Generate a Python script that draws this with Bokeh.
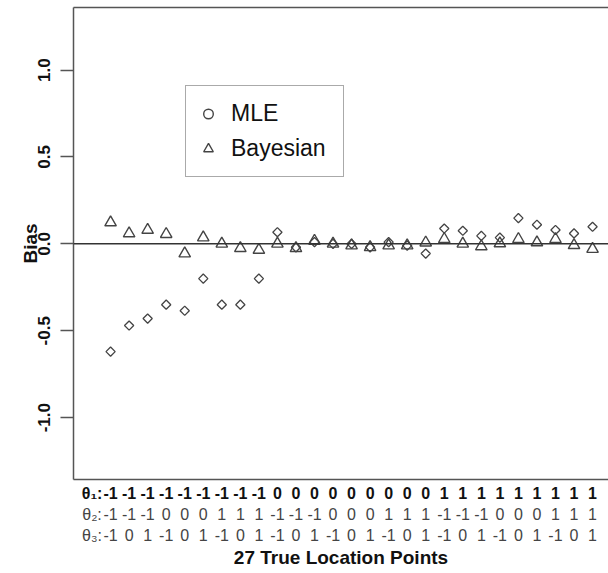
from bokeh.plotting import figure
from bokeh.models import (LinearAxis, FixedTicker, Range1d, Span, Legend,
                          LegendItem, PrintfTickFormatter)
from bokeh.embed import file_html
from bokeh.resources import INLINE

# ---- data ----
points = [1, 2, 3, 4, 5, 6, 7, 8, 9, 10, 11, 12, 13, 14, 15, 16, 17, 18,
          19, 20, 21, 22, 23, 24, 25, 26, 27]
theta1 = [-1, -1, -1, -1, -1, -1, -1, -1, -1, 0, 0, 0, 0, 0, 0, 0, 0, 0,
          1, 1, 1, 1, 1, 1, 1, 1, 1]
theta2 = [-1, -1, -1, 0, 0, 0, 1, 1, 1, -1, -1, -1, 0, 0, 0, 1, 1, 1,
          -1, -1, -1, 0, 0, 0, 1, 1, 1]
theta3 = [-1, 0, 1, -1, 0, 1, -1, 0, 1, -1, 0, 1, -1, 0, 1, -1, 0, 1,
          -1, 0, 1, -1, 0, 1, -1, 0, 1]
mle = [-0.62, -0.47, -0.43, -0.35, -0.385, -0.20, -0.35, -0.35, -0.20, 0.067,
       -0.02, 0.01, 0.0, 0.0, -0.02, 0.01, -0.01, -0.056, 0.088, 0.075,
       0.046, 0.036, 0.148, 0.11, 0.08, 0.06, 0.098]
bayes = [0.123, 0.06, 0.08, 0.056, -0.056, 0.036, 0.0, -0.025, -0.035, 0.0,
         -0.025, 0.017, 0.0, -0.01, -0.02, -0.01, -0.01, 0.007, 0.027, 0.0,
         -0.015, 0.002, 0.027, 0.008, 0.027, -0.008, -0.03]
y_ticks = [-1.0, -0.5, 0.0, 0.5, 1.0]
series_labels = ["MLE", "Bayesian"]
row_prefixes = ["θ₁:", "θ₂:", "θ₃:"]
prefix_tick = 0
x_title = "27 True Location Points"
y_title = "Bias"

FONT = "Liberation Sans"
LINE = "#555555"
MARK = "#444444"

p = figure(width=608, height=573, output_backend="svg", toolbar_location=None,
           x_range=Range1d(-1.0, 27.86), y_range=Range1d(-1.356, 1.36),
           x_axis_location=None, y_axis_location=None,
           min_border_left=73, min_border_right=0, min_border_top=7,
           min_border_bottom=94, outline_line_color=None,
           background_fill_color="white", border_fill_color="white")
p.xgrid.visible = False
p.ygrid.visible = False

# zero line
p.add_layout(Span(location=0, dimension="width", line_color="#333333",
                  line_width=1.5))

# data markers
p.scatter(points, mle, marker="square", angle=0.7853981634, size=6.5,
          line_color=MARK, fill_color=None, line_width=1.3)
p.scatter(points, bayes, marker="triangle", size=11.5,
          line_color=MARK, fill_color=None, line_width=1.4)

# legend (circle symbol for MLE as in the original); renderers carry no
# visible data, they only supply the legend symbols
nan = float("nan")
leg_c = p.scatter([nan], [nan], marker="circle", size=8, line_color=MARK,
                  fill_color=None, line_width=1.4)
leg_t = p.scatter([nan], [nan], marker="triangle", size=11, line_color=MARK,
                  fill_color=None, line_width=1.4)
legend = Legend(items=[LegendItem(label=series_labels[0], renderers=[leg_c]),
                       LegendItem(label=series_labels[1], renderers=[leg_t])],
                location=(112, 302), margin=0, padding=10, spacing=0,
                glyph_width=24, glyph_height=35, label_height=35,
                label_width=102, label_standoff=11, label_text_font=FONT,
                label_text_font_size="23px", label_text_color="#111111",
                border_line_color=LINE, border_line_width=1.5,
                background_fill_color="white", background_fill_alpha=1.0)
p.add_layout(legend)

# left axis
yax = LinearAxis(ticker=FixedTicker(ticks=y_ticks),
                 formatter=PrintfTickFormatter(format="%.1f"),
                 axis_label=y_title, axis_label_text_font=FONT,
                 axis_label_text_font_size="19px",
                 axis_label_text_font_style="bold",
                 axis_label_text_color="#111111", axis_label_standoff=-5,
                 major_label_orientation="parallel", major_label_standoff=10,
                 major_label_text_font=FONT, major_label_text_font_size="17px",
                 major_label_text_font_style="bold",
                 major_label_text_color="#111111",
                 major_tick_out=13, major_tick_in=0, minor_tick_out=0,
                 minor_tick_in=0, major_tick_line_color=LINE,
                 major_tick_line_width=1.5, axis_line_color=LINE,
                 axis_line_width=1.5)
p.add_layout(yax, "left")

# top border
top = LinearAxis(ticker=FixedTicker(ticks=[]), major_tick_out=0,
                 major_tick_in=0, minor_tick_out=0, minor_tick_in=0,
                 major_label_standoff=0, axis_line_color=LINE,
                 axis_line_width=1.5)
p.add_layout(top, "above")

# three rows of location labels, each row led by its theta prefix
rows = [theta1, theta2, theta3]
standoffs = [5, 1, 1]
for k, vals in enumerate(rows):
    overrides = {prefix_tick: row_prefixes[k]}
    overrides.update({pt: str(v) for pt, v in zip(points, vals)})
    ax = LinearAxis(ticker=FixedTicker(ticks=[prefix_tick] + points),
                    major_label_overrides=overrides,
                    major_label_standoff=standoffs[k],
                    major_label_text_font=FONT,
                    major_label_text_font_size="16px",
                    major_label_text_font_style="bold" if k == 0 else "normal",
                    major_label_text_color="#111111" if k == 0 else "#444444",
                    major_tick_out=0, major_tick_in=0, minor_tick_out=0,
                    minor_tick_in=0,
                    axis_line_color=LINE if k == 0 else None,
                    axis_line_width=1.5)
    if k == 2:
        ax.axis_label = x_title
        ax.axis_label_text_font = FONT
        ax.axis_label_text_font_size = "19px"
        ax.axis_label_text_font_style = "bold"
        ax.axis_label_text_color = "#111111"
        ax.axis_label_standoff = 0
    p.add_layout(ax, "below")

open("out.html", "w").write(file_html(p, INLINE))
